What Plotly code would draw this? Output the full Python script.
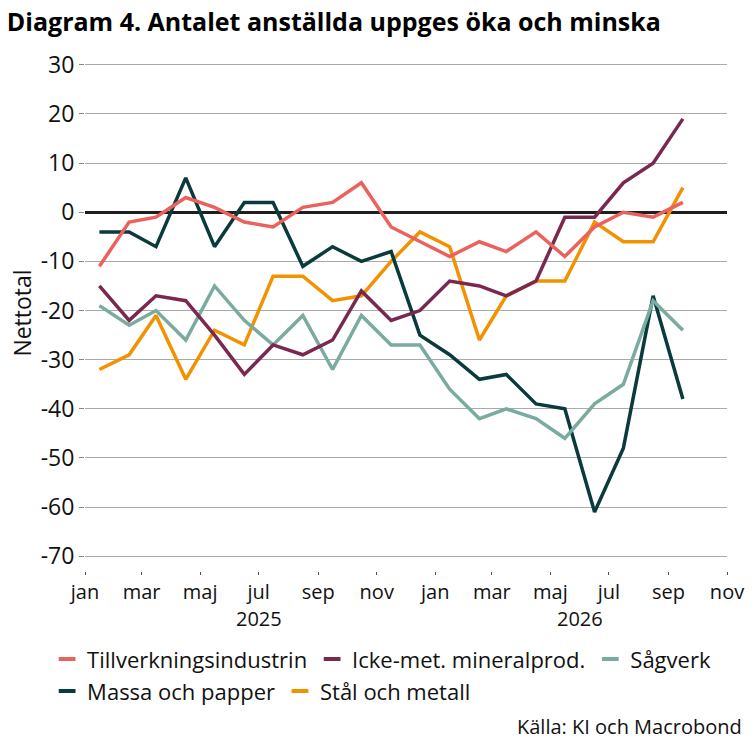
import plotly.graph_objects as go

# monthly data, jan 2025 - sep 2026 (plotted mid-month)
months = ["2025-01", "2025-02", "2025-03", "2025-04", "2025-05", "2025-06", "2025-07",
          "2025-08", "2025-09", "2025-10", "2025-11", "2025-12", "2026-01", "2026-02",
          "2026-03", "2026-04", "2026-05", "2026-06", "2026-07", "2026-08", "2026-09"]
dates = [m + "-16" for m in months]

tillverkning = [-11, -2, -1, 3, 1, -2, -3, 1, 2, 6, -3, -6, -9, -6, -8, -4, -9, -3, 0, -1, 2]
icke_met = [-15, -22, -17, -18, -25, -33, -27, -29, -26, -16, -22, -20, -14, -15, -17, -14, -1, -1, 6, 10, 19]
sagverk = [-19, -23, -20, -26, -15, -22, -27, -21, -32, -21, -27, -27, -36, -42, -40, -42, -46, -39, -35, -18, -24]
massa = [-4, -4, -7, 7, -7, 2, 2, -11, -7, -10, -8, -25, -29, -34, -33, -39, -40, -61, -48, -17, -38]
stal = [-32, -29, -21, -34, -24, -27, -13, -13, -18, -17, -10, -4, -7, -26, -17, -14, -14, -2, -6, -6, 5]

names = ["Tillverkningsindustrin", "Icke-met. mineralprod.", "Sågverk", "Massa och papper", "Stål och metall"]
colors = ["#EB625C", "#7B2850", "#7AABA0", "#0A3A3C", "#F39200"]
series = [tillverkning, icke_met, sagverk, massa, stal]
legend_rows = ["legend", "legend", "legend", "legend2", "legend2"]

tick_dates = ["2025-01-01", "2025-03-01", "2025-05-01", "2025-07-01", "2025-09-01", "2025-11-01",
              "2026-01-01", "2026-03-01", "2026-05-01", "2026-07-01", "2026-09-01", "2026-11-01"]
tick_text = ["jan", "mar", "maj", "jul", "sep", "nov", "jan", "mar", "maj", "jul", "sep", "nov"]
y_ticks = [30, 20, 10, 0, -10, -20, -30, -40, -50, -60, -70]

font = "Open Sans"

fig = go.Figure()

# lines drawn in reverse so the first series lies on top
for name, col, vals in reversed(list(zip(names, colors, series))):
    fig.add_trace(go.Scatter(x=dates, y=vals, mode="lines", name=name,
                             line=dict(color=col, width=3.5), showlegend=False))

# short legend symbols, two rows
for name, col, lg in zip(names, colors, legend_rows):
    fig.add_trace(go.Scatter(x=[None], y=[None], mode="markers", name=name, legend=lg,
                             marker=dict(symbol="line-ew", size=12,
                                         line=dict(color=col, width=4))))

leg = dict(orientation="h", x=-0.059, xanchor="left", yanchor="middle",
           font=dict(size=22), itemwidth=30, traceorder="normal",
           bgcolor="rgba(0,0,0,0)")

fig.update_layout(
    width=756, height=756,
    margin=dict(l=85, r=25, t=55, b=185),
    paper_bgcolor="white", plot_bgcolor="white",
    font=dict(family=font, color="#111111", size=23),
    title=dict(text="<b>Diagram 4. Antalet anställda uppges öka och minska</b>",
               xref="container", x=0.009, xanchor="left", y=0.971, yanchor="middle",
               font=dict(family=font, size=25, color="black")),
    legend=dict(leg, y=-0.171),
    legend2=dict(leg, y=-0.233),
    showlegend=True,
)

fig.update_xaxes(
    range=["2025-01-01", "2026-11-01"],
    tickvals=tick_dates, ticktext=tick_text,
    ticks="outside", ticklen=3, tickcolor="#555555",
    showgrid=False, showline=False, zeroline=False,
    tickfont=dict(size=20),
)
fig.update_yaxes(
    range=[-73, 32],
    tickvals=y_ticks, ticktext=[str(v) for v in y_ticks],
    ticks="outside", ticklen=5, tickcolor="#888888",
    showgrid=True, gridcolor="#AAAAAA", gridwidth=1,
    zeroline=True, zerolinecolor="#1E1E1E", zerolinewidth=3, showline=False,
    title=dict(text="Nettotal", font=dict(size=23), standoff=2),
    tickfont=dict(size=23),
)

# year labels under month ticks
for yr_x, yr in [("2025-07-01", "2025"), ("2026-06-01", "2026")]:
    fig.add_annotation(x=yr_x, y=0, xref="x", yref="paper", text=yr, yanchor="middle",
                       showarrow=False, yshift=-47, font=dict(size=20))

fig.add_annotation(x=1.026, y=-0.301, xref="paper", yref="paper", xanchor="right",
                   yanchor="middle", text="Källa: KI och Macrobond", showarrow=False,
                   font=dict(size=20))

fig.write_html("out.html", config={"displayModeBar": False},
               post_script="document.body.style.margin='0px';")
